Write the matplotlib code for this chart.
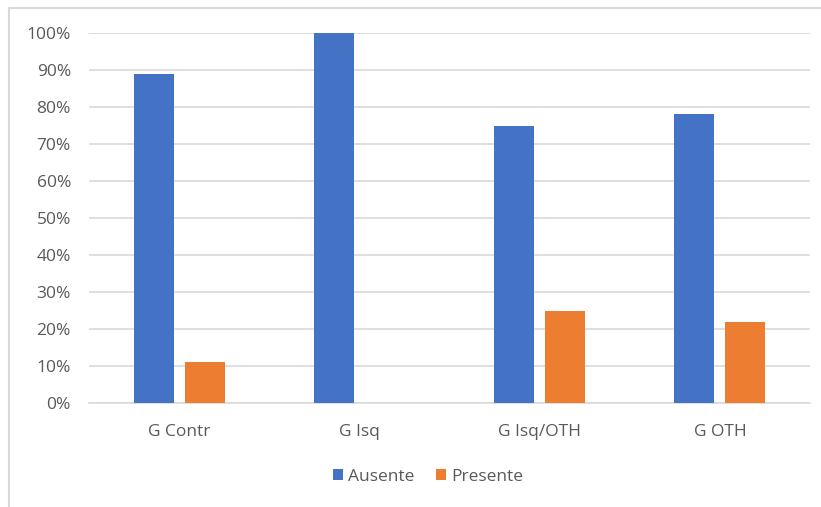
import matplotlib
matplotlib.use("Agg")
import matplotlib.pyplot as plt
import numpy as np
from matplotlib.ticker import PercentFormatter
from matplotlib.lines import Line2D

categories = ["G Contr", "G Isq", "G Isq/OTH", "G OTH"]
ausente = [89, 100, 75, 78]
presente = [11, 0, 25, 22]
series_names = ["Ausente", "Presente"]

blue = "#4472C4"
orange = "#ED7D31"
txt = "#595959"
grid = "#D9D9D9"
fs = 12.5

fig = plt.figure(figsize=(8.21, 5.07), dpi=100)
ax = fig.add_axes([89/821, 1-403/507, (810-89)/821, (403-33)/507])

x = np.arange(len(categories))
w = 0.222
off = 0.142
ax.bar(x - off, ausente, width=w, color=blue, label=series_names[0], zorder=3)
ax.bar(x + off, presente, width=w, color=orange, label=series_names[1], zorder=3)

ax.set_xlim(-0.5, len(categories) - 0.5)
ax.set_ylim(0, 100)
ax.set_yticks(np.arange(0, 101, 10))
ax.yaxis.set_major_formatter(PercentFormatter(decimals=0))
ax.set_xticks(x)
ax.set_xticklabels(categories)
ax.grid(axis="y", color=grid, linewidth=1.2, zorder=0)
for s in ["top", "right", "left"]:
    ax.spines[s].set_visible(False)
ax.spines["bottom"].set_color(grid)
ax.spines["bottom"].set_linewidth(1.2)
ax.tick_params(axis="both", length=0, labelsize=fs, labelcolor=txt, colors=txt)
ax.tick_params(axis="y", pad=13)
ax.tick_params(axis="x", pad=15)
for lab in ax.get_xticklabels() + ax.get_yticklabels():
    lab.set_fontfamily("Open Sans")

leg = fig.legend(loc="center", bbox_to_anchor=(428/821, 1-477/507), ncol=2, frameon=False,
                 handlelength=0.6, handleheight=0.6, handletextpad=0.3, columnspacing=1.2,
                 prop={"family": "Open Sans", "size": fs})
for t in leg.get_texts():
    t.set_color(txt)

# chart border (left and top visible)
fig.add_artist(Line2D([9/821, 9/821], [0, 1-8/507], color=grid, linewidth=1.5, transform=fig.transFigure))
fig.add_artist(Line2D([9/821, 1], [1-8/507, 1-8/507], color=grid, linewidth=1.5, transform=fig.transFigure))

fig.savefig("out.png", dpi=100)
